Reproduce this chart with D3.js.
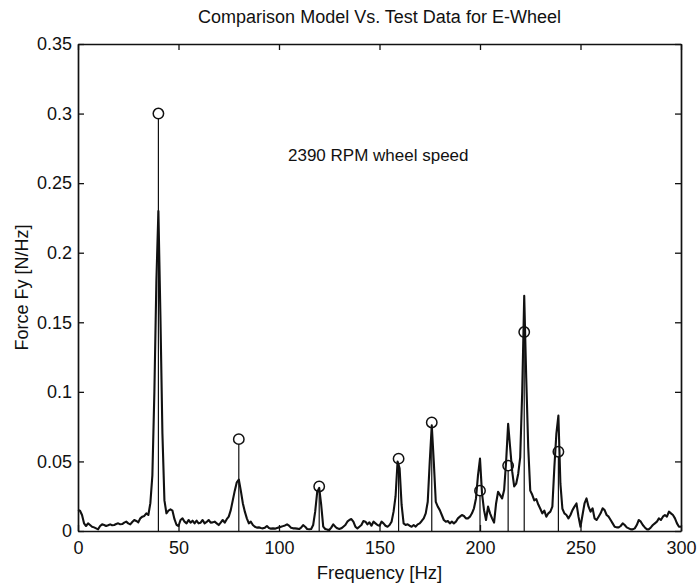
<!DOCTYPE html>
<html>
<head>
<meta charset="utf-8">
<script src="https://cdn.jsdelivr.net/npm/d3@7"></script>
<style>
  html, body { margin: 0; padding: 0; background: #fff; }
  svg { display: block; }
  text { font-family: "Liberation Sans", Arial, Helvetica, sans-serif; fill: #111; }
</style>
</head>
<body>
<svg id="chart" width="698" height="584"></svg>
<script>
// ---------------- DATA ----------------
const chartTitle = "Comparison Model Vs. Test Data for E-Wheel";
const xAxisLabel = "Frequency [Hz]";
const yAxisLabel = "Force Fy [N/Hz]";
const annotation = "2390 RPM wheel speed";

// Measured spectrum, one value per Hz from 0 Hz to 300 Hz (N/Hz)
const spectrumStartHz = 0;
const spectrumStepHz = 1;
const testForceFy = [
  0.0151, 0.0146, 0.0115, 0.0055, 0.0036, 0.0055, 0.0043, 0.0031, 0.0026, 0.0019, // 0-9
  0.0012, 0.0036, 0.0048, 0.0043, 0.0036, 0.0041, 0.0048, 0.0041, 0.0043, 0.0050, // 10-19
  0.0055, 0.0048, 0.0050, 0.0060, 0.0067, 0.0055, 0.0048, 0.0065, 0.0079, 0.0072, // 20-29
  0.0062, 0.0091, 0.0103, 0.0108, 0.0127, 0.0115, 0.0200, 0.0400, 0.1000, 0.1800, // 30-39
  0.2300, 0.1550, 0.0700, 0.0220, 0.0127, 0.0146, 0.0155, 0.0146, 0.0085, 0.0045, // 40-49
  0.0036, 0.0079, 0.0091, 0.0067, 0.0055, 0.0079, 0.0060, 0.0074, 0.0055, 0.0074, // 50-59
  0.0055, 0.0060, 0.0079, 0.0055, 0.0065, 0.0079, 0.0060, 0.0062, 0.0067, 0.0055, // 60-69
  0.0043, 0.0060, 0.0079, 0.0060, 0.0085, 0.0103, 0.0150, 0.0220, 0.0290, 0.0350, // 70-79
  0.0370, 0.0290, 0.0200, 0.0139, 0.0091, 0.0055, 0.0067, 0.0043, 0.0031, 0.0024, // 80-89
  0.0026, 0.0022, 0.0019, 0.0024, 0.0036, 0.0022, 0.0017, 0.0019, 0.0017, 0.0022, // 90-99
  0.0026, 0.0030, 0.0035, 0.0040, 0.0048, 0.0038, 0.0024, 0.0019, 0.0019, 0.0017, // 100-109
  0.0014, 0.0024, 0.0043, 0.0031, 0.0014, 0.0012, 0.0014, 0.0043, 0.0139, 0.0280, // 110-119
  0.0310, 0.0187, 0.0031, 0.0014, 0.0010, 0.0007, 0.0024, 0.0048, 0.0031, 0.0019, // 120-129
  0.0014, 0.0019, 0.0031, 0.0043, 0.0067, 0.0079, 0.0086, 0.0067, 0.0031, 0.0019, // 130-139
  0.0031, 0.0043, 0.0072, 0.0067, 0.0048, 0.0062, 0.0038, 0.0067, 0.0055, 0.0043, // 140-149
  0.0038, 0.0067, 0.0055, 0.0038, 0.0031, 0.0043, 0.0067, 0.0139, 0.0250, 0.0500, // 150-159
  0.0450, 0.0187, 0.0055, 0.0043, 0.0048, 0.0038, 0.0031, 0.0043, 0.0031, 0.0048, // 160-169
  0.0055, 0.0072, 0.0091, 0.0127, 0.0210, 0.0500, 0.0760, 0.0500, 0.0210, 0.0175, // 170-179
  0.0150, 0.0115, 0.0079, 0.0067, 0.0072, 0.0055, 0.0067, 0.0055, 0.0067, 0.0091, // 180-189
  0.0103, 0.0115, 0.0108, 0.0091, 0.0091, 0.0103, 0.0127, 0.0163, 0.0234, 0.0400, // 190-199
  0.0520, 0.0270, 0.0150, 0.0079, 0.0175, 0.0127, 0.0091, 0.0060, 0.0198, 0.0282, // 200-209
  0.0258, 0.0234, 0.0294, 0.0500, 0.0770, 0.0600, 0.0430, 0.0320, 0.0340, 0.0410, // 210-219
  0.0530, 0.1000, 0.1690, 0.1100, 0.0600, 0.0290, 0.0260, 0.0220, 0.0230, 0.0190, // 220-229
  0.0160, 0.0127, 0.0146, 0.0103, 0.0127, 0.0139, 0.0175, 0.0460, 0.0700, 0.0830, // 230-239
  0.0340, 0.0160, 0.0127, 0.0115, 0.0091, 0.0115, 0.0150, 0.0175, 0.0198, 0.0103, // 240-249
  0.0031, 0.0115, 0.0198, 0.0234, 0.0175, 0.0139, 0.0163, 0.0091, 0.0079, 0.0103, // 250-259
  0.0127, 0.0163, 0.0150, 0.0115, 0.0103, 0.0079, 0.0055, 0.0031, 0.0026, 0.0026, // 260-269
  0.0036, 0.0055, 0.0043, 0.0026, 0.0019, 0.0012, 0.0012, 0.0019, 0.0043, 0.0079, // 270-279
  0.0067, 0.0043, 0.0026, 0.0012, 0.0012, 0.0026, 0.0043, 0.0055, 0.0067, 0.0091, // 280-289
  0.0079, 0.0103, 0.0115, 0.0103, 0.0139, 0.0127, 0.0115, 0.0091, 0.0055, 0.0031, // 290-299
  0.0030                                                                          // 300
];

// Model prediction (circles on stems)
const modelFreqs  = [40, 80, 120, 159.5, 176, 200, 214, 222, 239];
const modelValues = [0.300, 0.066, 0.032, 0.052, 0.078, 0.029, 0.047, 0.143, 0.057];

// Axes
const xDomain = [0, 300];
const yDomain = [0, 0.35];
const xTicks = [0, 50, 100, 150, 200, 250, 300];
const xTickLabels = ["0", "50", "100", "150", "200", "250", "300"];
const yTicks = [0, 0.05, 0.1, 0.15, 0.2, 0.25, 0.3, 0.35];
const yTickLabels = ["0", "0.05", "0.1", "0.15", "0.2", "0.25", "0.3", "0.35"];

// ---------------- DRAW ----------------
const svg = d3.select("#chart");
const plot = { left: 78, right: 681, top: 44, bottom: 531 };

const x = d3.scaleLinear().domain(xDomain).range([plot.left, plot.right]);
const y = d3.scaleLinear().domain(yDomain).range([plot.bottom, plot.top]);

const spectrum = testForceFy.map((v, i) => ({ f: spectrumStartHz + i * spectrumStepHz, v }));
const model = modelFreqs.map((f, i) => ({ f, v: modelValues[i] }));

const ink = "#111";
const tickLen = 6;
const fontStack = "'Liberation Sans', Arial, Helvetica, sans-serif";

// Frame / axes
const axB = d3.axisBottom(x).tickValues(xTicks)
  .tickFormat((d, i) => xTickLabels[i]).tickSizeInner(-tickLen).tickSizeOuter(0).tickPadding(10);
const axT = d3.axisTop(x).tickValues(xTicks).tickFormat("").tickSizeInner(-tickLen).tickSizeOuter(0);
const axL = d3.axisLeft(y).tickValues(yTicks)
  .tickFormat((d, i) => yTickLabels[i]).tickSizeInner(-tickLen).tickSizeOuter(0).tickPadding(6);
const axR = d3.axisRight(y).tickValues(yTicks).tickFormat("").tickSizeInner(-tickLen).tickSizeOuter(0);

function styleAxis(g) {
  g.select(".domain").attr("stroke", ink).attr("stroke-width", 1.7);
  g.selectAll(".tick line").attr("stroke", ink).attr("stroke-width", 1.3);
  g.selectAll(".tick text").attr("fill", ink).style("font-size", "18px")
    .style("font-family", fontStack);
}

svg.append("g").attr("transform", `translate(0,${plot.bottom})`).call(axB).call(styleAxis);
svg.append("g").attr("transform", `translate(0,${plot.top})`).call(axT).call(styleAxis);
svg.append("g").attr("transform", `translate(${plot.left},0)`).call(axL).call(styleAxis);
svg.append("g").attr("transform", `translate(${plot.right},0)`).call(axR).call(styleAxis);

// Model stems
svg.append("g").selectAll("line").data(model).join("line")
  .attr("x1", d => x(d.f)).attr("x2", d => x(d.f))
  .attr("y1", y(0)).attr("y2", d => y(d.v) + 5)
  .attr("stroke", ink).attr("stroke-width", 1.2);

// Test spectrum line
const line = d3.line().x(d => x(d.f)).y(d => y(d.v));
svg.append("path").datum(spectrum)
  .attr("d", line).attr("fill", "none")
  .attr("stroke", ink).attr("stroke-width", 2.1).attr("stroke-linejoin", "round");

// Model circles
svg.append("g").selectAll("circle").data(model).join("circle")
  .attr("cx", d => x(d.f)).attr("cy", d => y(d.v)).attr("r", 5.2)
  .attr("fill", "none").attr("stroke", ink).attr("stroke-width", 1.5);

// Texts
svg.append("text").attr("x", (plot.left + plot.right) / 2).attr("y", 23)
  .attr("text-anchor", "middle").style("font-size", "18px").text(chartTitle);

svg.append("text").attr("x", (plot.left + plot.right) / 2).attr("y", 579)
  .attr("text-anchor", "middle").style("font-size", "18.5px").text(xAxisLabel);

svg.append("text").attr("transform", `translate(28,${(plot.top + plot.bottom) / 2}) rotate(-90)`)
  .attr("text-anchor", "middle").style("font-size", "18px").text(yAxisLabel);

svg.append("text").attr("x", 288).attr("y", 161)
  .style("font-size", "17px").text(annotation);
</script>
</body>
</html>
